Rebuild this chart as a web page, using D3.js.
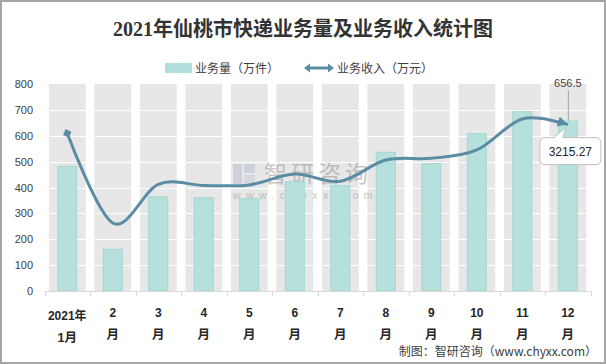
<!DOCTYPE html>
<html><head><meta charset="utf-8">
<script src="https://cdn.jsdelivr.net/npm/d3@7"></script>
<style>
html,body{margin:0;padding:0;background:#fff;}
svg{display:block;}
</style></head>
<body>
<svg id="c" width="606" height="364"></svg>
<script>
const categories = ["2021年1月","2月","3月","4月","5月","6月","7月","8月","9月","10月","11月","12月"];
const xLabelTop = ["2021年","2","3","4","5","6","7","8","9","10","11","12"];
const xLabelBottom = ["1月","月","月","月","月","月","月","月","月","月","月","月"];
const volume = [482,161,364,360,357,422,407,536,492,608,693,656.5];      // 业务量（万件）
const revenue = [3047,1314,2060,2040,2050,2260,2120,2530,2565,2725,3325,3215.27]; // 业务收入（万元）
const yTicks = [0,100,200,300,400,500,600,700,800];

const svg = d3.select("#c");
const font = "'Liberation Sans','Noto Sans CJK SC',sans-serif";
const cjk = "'Noto Sans CJK SC',sans-serif";

// border
svg.append("rect").attr("x",1).attr("y",1).attr("width",604).attr("height",362)
  .attr("fill","#fff").attr("stroke","#a6a6a6").attr("stroke-width",2);

const x = d3.scaleBand().domain(categories).range([44.5,590.6]).paddingInner(0).paddingOuter(0);
const y = d3.scaleLinear().domain([0,800]).range([291,84]);
const y2 = d3.scaleLinear().domain([0,4000]).range([291,84]);

// title
svg.append("text").attr("x",303).attr("y",36).attr("text-anchor","middle")
  .attr("font-family","'Liberation Serif','Noto Sans CJK SC',serif").attr("font-weight","bold")
  .attr("font-size",20).attr("fill","#333").text("2021年仙桃市快递业务量及业务收入统计图");

// legend
const lg = svg.append("g");
lg.append("rect").attr("x",165).attr("y",63).attr("width",27).attr("height",10).attr("fill","#b2dfdb");
lg.append("text").attr("x",195).attr("y",73).attr("font-family",cjk).attr("font-size",12).attr("fill","#404040").text("业务量（万件）");
lg.append("line").attr("x1",309).attr("x2",329).attr("y1",68).attr("y2",68).attr("stroke","#5a8da3").attr("stroke-width",3);
lg.append("path").attr("d","M304,68 L310,63.5 L310,72.5 Z").attr("fill","#5a8da3");
lg.append("path").attr("d","M334,68 L328,63.5 L328,72.5 Z").attr("fill","#5a8da3");
lg.append("text").attr("x",337).attr("y",73).attr("font-family",cjk).attr("font-size",12).attr("fill","#404040").text("业务收入（万元）");

// gray column backgrounds
const bw = x.bandwidth();
svg.append("g").selectAll("rect").data(categories).join("rect")
  .attr("x",d=>x(d)+bw/2-bw*0.405).attr("width",bw*0.81)
  .attr("y",y(800)).attr("height",y(0)-y(800)).attr("fill","#e7e7e7");

// gridlines (white)
svg.append("g").selectAll("line").data(yTicks.slice(1,-1)).join("line")
  .attr("x1",44.5).attr("x2",590.6).attr("y1",d=>Math.round(y(d))+0.5).attr("y2",d=>Math.round(y(d))+0.5)
  .attr("stroke","#fff").attr("stroke-width",1);

// y axis labels
svg.append("g").selectAll("text").data(yTicks).join("text")
  .attr("x",33).attr("y",d=>y(d)+4).attr("text-anchor","end")
  .attr("font-family",font).attr("font-size",11).attr("fill","#404040").text(d=>d);

// watermark
const wm = svg.append("g").attr("opacity",0.55);
wm.append("rect").attr("x",233).attr("y",164).attr("width",9).attr("height",20).attr("fill","#b8c0d0");
wm.append("rect").attr("x",244).attr("y",164).attr("width",11).attr("height",9).attr("fill","#b8c0d0");
wm.append("rect").attr("x",244).attr("y",175).attr("width",11).attr("height",9).attr("fill","#c8ccd4");
wm.append("text").attr("x",264).attr("y",182).attr("font-family",cjk).attr("font-size",23)
  .attr("fill","#9a9a9a").attr("letter-spacing",4).text("智研咨询");
wm.append("text").attr("x",233).attr("y",199).attr("font-family",font).attr("font-size",10.5)
  .attr("fill","#9a9a9a").attr("letter-spacing",5.4).text("www.chyxx.com");

// bars
svg.append("g").selectAll("rect").data(volume).join("rect")
  .attr("x",(d,i)=>x(categories[i])+bw/2-9.5).attr("width",19)
  .attr("y",d=>y(d)).attr("height",d=>y(0)-y(d))
  .attr("fill","#b2dfdb").attr("fill-opacity",0.95).attr("stroke","#a3d7d1").attr("stroke-width",1);

// x axis
const ax = svg.append("g");
ax.append("line").attr("x1",44.5).attr("x2",590.6).attr("y1",291.5).attr("y2",291.5).attr("stroke","#d9d9d9");
const bounds = categories.map(c=>x(c)).concat([x(categories[11])+bw]);
ax.selectAll("line.t").data(bounds).join("line").attr("class","t")
  .attr("x1",d=>Math.round(d)+0.5).attr("x2",d=>Math.round(d)+0.5).attr("y1",291).attr("y2",296).attr("stroke","#d9d9d9");
ax.selectAll("text.top").data(xLabelTop).join("text").attr("class","top")
  .attr("x",(d,i)=>x(categories[i])+bw/2).attr("y",(d,i)=>i===0?320:317).attr("text-anchor","middle")
  .attr("font-family",font).attr("font-weight","bold").attr("font-size",12).attr("fill","#262626").text(d=>d);
ax.selectAll("text.bot").data(xLabelBottom).join("text").attr("class","bot")
  .attr("x",(d,i)=>x(categories[i])+bw/2).attr("y",(d,i)=>i===0?342:339).attr("text-anchor","middle")
  .attr("font-family",font).attr("font-weight","bold").attr("font-size",12.5).attr("fill","#262626").text(d=>d);

// line markers
const defs = svg.append("defs");
defs.append("marker").attr("id","mStart").attr("viewBox","-5 -5 10 10").attr("refX",0).attr("refY",0)
  .attr("markerWidth",3).attr("markerHeight",3).attr("markerUnits","strokeWidth").attr("orient","auto")
  .append("path").attr("d","M-5,0 L0,-5 L5,0 L0,5 Z").attr("fill","#5a8da3");
defs.append("marker").attr("id","mEnd").attr("viewBox","-10 -5 10 10").attr("refX",0).attr("refY",0)
  .attr("markerWidth",3.4).attr("markerHeight",3.4).attr("markerUnits","strokeWidth").attr("orient","auto")
  .append("path").attr("d","M-10,-5 L0,0 L-10,5 Z").attr("fill","#5a8da3");

const pts = revenue.map((v,i)=>[x(categories[i])+bw/2, y2(v)]);
const lineGen = d3.line().curve(d3.curveCardinal.tension(0));
svg.append("path").attr("d",lineGen(pts)).attr("fill","none").attr("stroke","#5a8da3")
  .attr("stroke-width",3).attr("stroke-linecap","butt")
  .attr("marker-start","url(#mStart)").attr("marker-end","url(#mEnd)");

// label for last bar
const lx = x(categories[11])+bw/2;
const lyTop = y(volume[11]);
svg.append("line").attr("x1",lx+0.5).attr("x2",lx+0.5).attr("y1",90).attr("y2",lyTop).attr("stroke","#a6a6a6");
svg.append("text").attr("x",lx).attr("y",87).attr("text-anchor","middle")
  .attr("font-family",font).attr("font-size",11).attr("fill","#404040").text(volume[11]);

// callout for last revenue
const px = pts[11][0], py = pts[11][1];
const L = px-28, R = px+33, T = py+13, B = py+40, r = 5;
const cp = `M${L+r},${T} L${px-14},${T} L${px-2},${py+3} L${px-5},${T} L${R-r},${T} Q${R},${T} ${R},${T+r} L${R},${B-r} Q${R},${B} ${R-r},${B} L${L+r},${B} Q${L},${B} ${L},${B-r} L${L},${T+r} Q${L},${T} ${L+r},${T} Z`;
svg.append("path").attr("d",cp).attr("fill","#fff").attr("stroke","#bfbfbf");
svg.append("text").attr("x",(L+R)/2).attr("y",B-9).attr("text-anchor","middle")
  .attr("font-family",font).attr("font-size",12).attr("fill","#262626").text(revenue[11]);

// footer
svg.append("text").attr("x",597).attr("y",356).attr("text-anchor","end")
  .attr("font-family",cjk).attr("font-size",12).attr("fill","#404040").text("制图：智研咨询（www.chyxx.com）");
</script>
</body></html>
